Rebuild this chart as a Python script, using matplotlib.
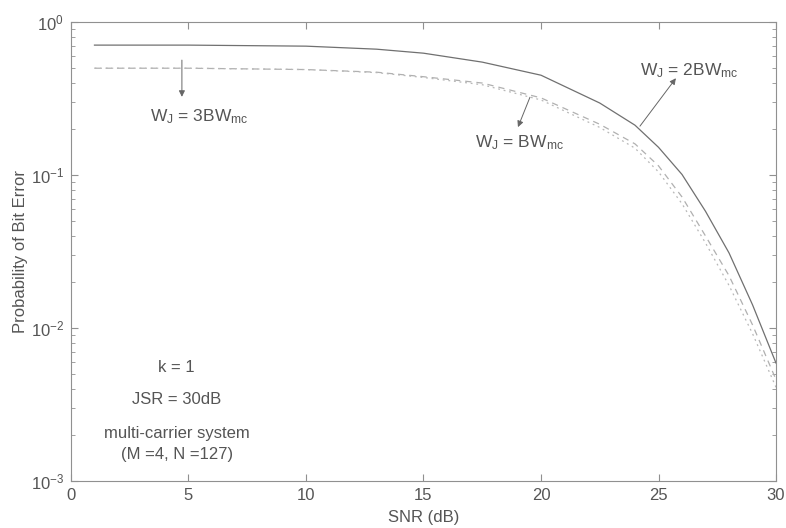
import matplotlib
matplotlib.use("Agg")
import matplotlib.pyplot as plt

plt.rcParams["font.family"] = ["Liberation Sans", "DejaVu Sans"]
plt.rcParams["mathtext.fontset"] = "custom"
plt.rcParams["mathtext.rm"] = "Liberation Sans"
plt.rcParams["mathtext.it"] = "Liberation Sans"
plt.rcParams["mathtext.default"] = "regular"

# SNR (dB) sample points
snr = [1, 5, 10, 13, 15, 17.5, 20, 22.5, 24, 25, 26, 27, 28, 29, 30]

# W_J = 2BW_mc (solid)
pe_2bw = [0.708, 0.708, 0.697, 0.666, 0.627, 0.548, 0.45, 0.296, 0.212,
          0.152, 0.101, 0.058, 0.031, 0.0142, 0.0059]
# W_J = 3BW_mc (dashed)
pe_3bw = [0.50, 0.50, 0.49, 0.471, 0.44, 0.40, 0.32, 0.215, 0.16,
          0.115, 0.072, 0.040, 0.022, 0.0105, 0.0046]
# W_J = BW_mc (dotted)
pe_bw = [0.50, 0.50, 0.49, 0.468, 0.435, 0.39, 0.31, 0.205, 0.15,
         0.105, 0.065, 0.036, 0.019, 0.0092, 0.0041]

info_lines = ["k = 1", "JSR = 30dB", "multi-carrier system", "(M =4, N =127)"]
info_y = [0.0055, 0.0034, 0.00205, 0.00148]

fig = plt.figure(figsize=(7.86, 5.28), dpi=100)
ax = fig.add_axes([0.0903, 0.089, 0.897, 0.869])

ax.semilogy(snr, pe_2bw, color="#707070", lw=0.9, ls="-")
ax.semilogy(snr, pe_3bw, color="#b0b0b0", lw=0.9, ls=(0, (5, 4)))
ax.semilogy(snr, pe_bw, color="#b8b8b8", lw=0.9, ls=(0, (1.5, 3)))

ax.set_xlim(0, 30)
ax.set_ylim(1e-3, 1)
ax.set_xticks([0, 5, 10, 15, 20, 25, 30])

for s in ax.spines.values():
    s.set_color("#909090")
    s.set_linewidth(0.8)
ax.tick_params(which="both", direction="in", top=True, right=True,
               colors="#909090", labelcolor="#555555", labelsize=12)
ax.tick_params(which="major", length=5, pad=5)
ax.tick_params(which="minor", length=3)

ax.set_xlabel("SNR (dB)", fontsize=12, color="#555555", labelpad=5)
ax.set_ylabel("Probability of Bit Error", fontsize=12, color="#555555", labelpad=2)

txt = dict(fontsize=12.5, color="#555555")
arr = dict(arrowstyle="-|>", color="#666666", lw=0.7, mutation_scale=9,
           shrinkA=0, shrinkB=0)

ax.annotate("", xy=(4.72, 0.325), xytext=(4.72, 0.565), arrowprops=arr)
ax.text(3.36, 0.24, r"W$_J$ = 3BW$_{mc}$", va="center", ha="left", **txt)

ax.annotate("", xy=(19.02, 0.206), xytext=(19.53, 0.323), arrowprops=arr)
ax.text(17.2, 0.164, r"W$_J$ = BW$_{mc}$", va="center", ha="left", **txt)

ax.annotate("", xy=(25.74, 0.43), xytext=(24.21, 0.209), arrowprops=arr)
ax.text(24.2, 0.485, r"W$_J$ = 2BW$_{mc}$", va="center", ha="left", **txt)

for line, yv in zip(info_lines, info_y):
    ax.text(4.5, yv, line, ha="center", va="center", fontsize=12, color="#555555")

fig.savefig("out.png", dpi=100)
